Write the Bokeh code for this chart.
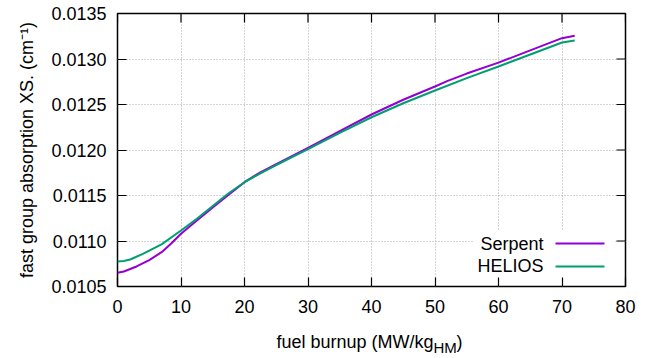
import numpy as np
from bokeh.plotting import figure
from bokeh.models import (Range1d, FixedTicker, NumeralTickFormatter, Label, BoxAnnotation,
                          LinearAxis, CustomJSTickFormatter)
from bokeh.embed import file_html
from bokeh.resources import INLINE

# ---- data ----
serpent_burnup = [0, 1, 3, 5, 7, 8.5, 10, 12.5, 15, 17.5, 20, 22.5, 25, 30, 35, 40, 45, 50, 52, 55, 60, 65, 70, 72]
serpent_xs = [0.01065, 0.010665, 0.01072, 0.01079, 0.01088, 0.010975, 0.01108, 0.011225, 0.011368, 0.011508,
              0.011646, 0.011755, 0.011845, 0.012024, 0.012208, 0.01239, 0.012552, 0.012698, 0.01276,
              0.01284, 0.01296, 0.013095, 0.013229, 0.013255]
helios_burnup = [0, 1, 2, 4, 7, 10, 12.5, 15, 17.5, 20, 22.5, 25, 30, 35, 40, 45, 50, 55, 60, 65, 70, 72]
helios_xs = [0.010775, 0.01078, 0.010797, 0.010859, 0.010965, 0.011115, 0.011245, 0.011385, 0.011525,
             0.011646, 0.011744, 0.011835, 0.012009, 0.012189, 0.01236, 0.012514, 0.012654, 0.01279,
             0.012918, 0.01305, 0.013181, 0.013203]
x_ticks = [0, 10, 20, 30, 40, 50, 60, 70, 80]
y_ticks = [0.0105, 0.0110, 0.0115, 0.0120, 0.0125, 0.0130, 0.0135]
series_names = ["Serpent", "HELIOS"]
series_colors = ["#9400d3", "#009e73"]
x_label_main = ["fuel burnup (MW/kg", ")"]
x_label_sub = ["HM"]
y_label = "fast group absorption XS. (cm\u207b\u00b9)"

FONT = "Liberation Sans"
FS = "18px"
X0, X1 = 0, 80
Y0, Y1 = 0.0105, 0.0135

p = figure(width=640, height=358, output_backend="svg", toolbar_location=None,
           x_range=Range1d(X0, X1), y_range=Range1d(Y0, Y1),
           min_border_left=117, min_border_right=15, min_border_top=13, min_border_bottom=72)
p.background_fill_color = "white"
p.border_fill_color = "white"
p.outline_line_color = "black"
p.outline_line_width = 1.5

for ax in (p.xaxis[0], p.yaxis[0]):
    ax.axis_line_color = None
    ax.major_tick_in = 9
    ax.major_tick_out = 0
    ax.minor_tick_in = 0
    ax.minor_tick_out = 0
    ax.major_tick_line_color = "black"
    ax.major_tick_line_width = 1.2
    ax.major_label_text_font = FONT
    ax.major_label_text_font_size = FS
    ax.major_label_text_color = "black"

p.xaxis.ticker = FixedTicker(ticks=x_ticks)
p.yaxis.ticker = FixedTicker(ticks=y_ticks)
p.yaxis.formatter = NumeralTickFormatter(format="0.0000")
p.xaxis.major_label_standoff = 13
p.yaxis.major_label_standoff = 11

p.yaxis.axis_label = y_label
p.yaxis.axis_label_text_font = FONT
p.yaxis.axis_label_text_font_size = FS
p.yaxis.axis_label_text_font_style = "normal"
p.yaxis.axis_label_text_color = "black"
p.yaxis.axis_label_standoff = 11

p.xgrid.ticker = FixedTicker(ticks=x_ticks)
p.ygrid.ticker = FixedTicker(ticks=y_ticks)
for g in (p.xgrid, p.ygrid):
    g.grid_line_color = "#a8a8a8"
    g.grid_line_dash = "1 2"
    g.grid_line_width = 1

# x-axis title built from label-only axes (main text, then subscript)
def text_axis(positions, labels, size, standoff):
    ax = LinearAxis(ticker=FixedTicker(ticks=positions),
                    formatter=CustomJSTickFormatter(args=dict(labels=labels), code="return labels[index];"))
    ax.axis_line_color = None
    ax.major_tick_line_color = None
    ax.minor_tick_line_color = None
    ax.major_tick_in = 0
    ax.major_tick_out = 0
    ax.major_label_text_font = FONT
    ax.major_label_text_font_size = size
    ax.major_label_text_color = "black"
    ax.major_label_standoff = standoff
    p.add_layout(ax, "below")

text_axis([37.4, 53.86], x_label_main, FS, 16)
text_axis([51.6], x_label_sub, "15px", -16)

# mirrored inward ticks on top and right edges
p.ray(x=x_ticks, y=[Y1] * len(x_ticks), length=9, length_units="screen", angle=-np.pi / 2,
      line_color="black", line_width=1.2)
p.ray(x=[X1] * len(y_ticks), y=y_ticks, length=9, length_units="screen", angle=np.pi,
      line_color="black", line_width=1.2)

# legend background
p.add_layout(BoxAnnotation(left=56.0, right=78.4, bottom=0.010544, top=0.011115,
                           fill_color="white", fill_alpha=1.0, line_color=None, level="underlay"))

p.line(serpent_burnup, serpent_xs, line_color=series_colors[0], line_width=2)
p.line(helios_burnup, helios_xs, line_color=series_colors[1], line_width=2)

# legend: text then sample line
leg_y = [0.0109725, 0.01072]
for name, col, yy in zip(series_names, series_colors, leg_y):
    p.add_layout(Label(x=67.1, y=yy, text=name, text_align="right", text_baseline="middle",
                       text_font=FONT, text_font_size=FS, text_color="black"))
    p.segment(x0=[68.98], y0=[yy], x1=[76.69], y1=[yy], line_color=col, line_width=2)

open("out.html", "w").write(file_html(p, INLINE))
